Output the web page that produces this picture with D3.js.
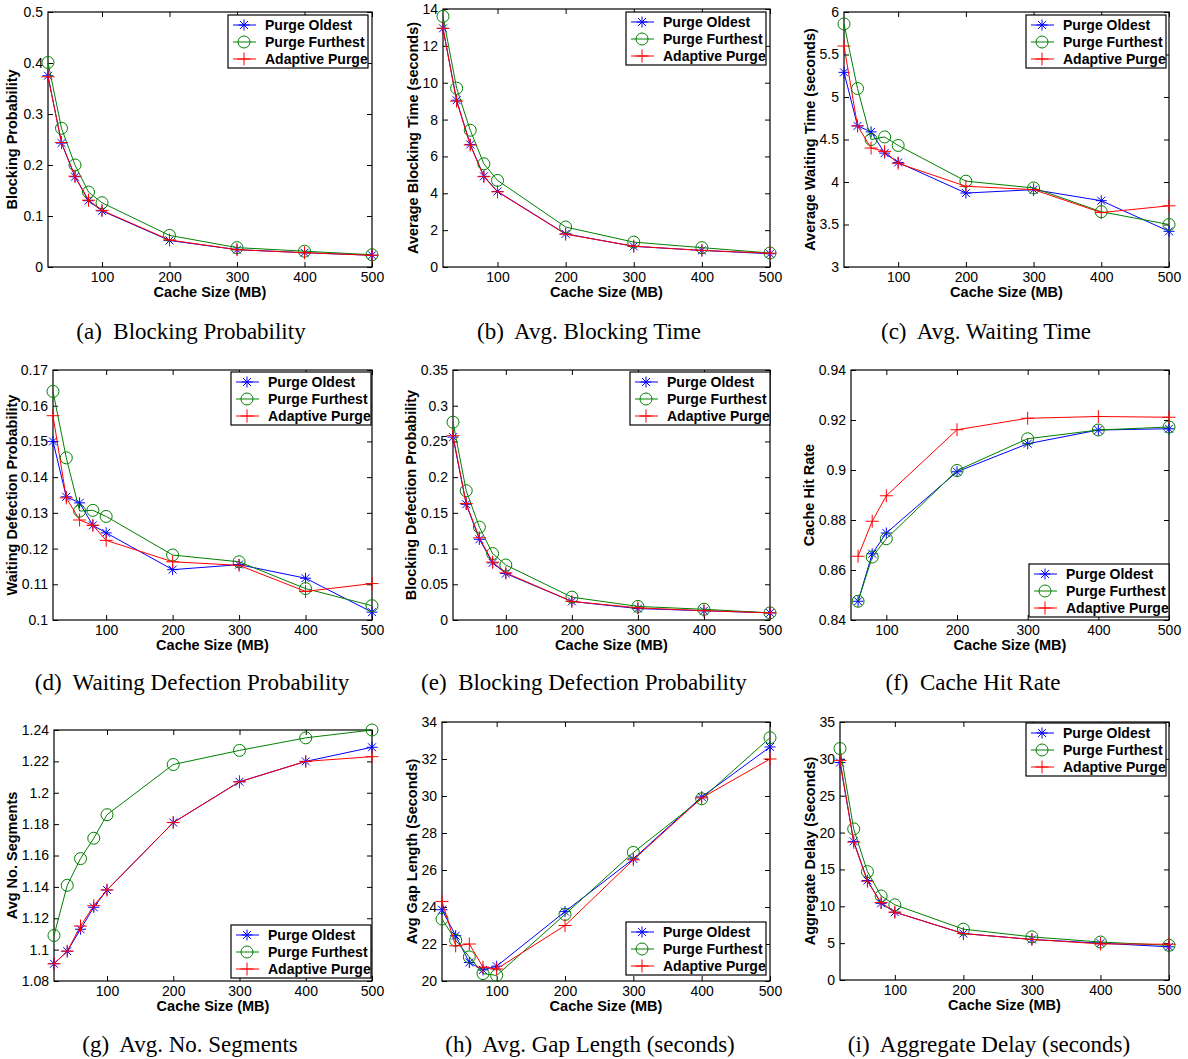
<!DOCTYPE html>
<html>
<head>
<meta charset="utf-8">
<script src="https://cdn.jsdelivr.net/npm/d3@7/dist/d3.min.js"></script>
<style>
  html, body { margin: 0; padding: 0; background: #fff; }
  svg { display: block; }
</style>
</head>
<body>
<svg id="chart" width="1188" height="1059"></svg>
<script>
// ---------------- DATA ----------------
const cacheSizes = [20, 40, 60, 80, 100, 200, 300, 400, 500];
const cacheSizesHit = [60, 80, 100, 200, 300, 400, 500];
const xTickValues = [100, 200, 300, 400, 500];
const seriesNames = ["Purge Oldest", "Purge Furthest", "Adaptive Purge"];

const blockingProbOldest   = [0.375, 0.243, 0.177, 0.130, 0.110, 0.052, 0.034, 0.028, 0.023];
const blockingProbFurthest = [0.401, 0.272, 0.200, 0.147, 0.126, 0.062, 0.038, 0.031, 0.024];
const blockingProbAdaptive = [0.373, 0.244, 0.178, 0.131, 0.111, 0.053, 0.034, 0.028, 0.023];
const blockingProbTicks = [0, 0.1, 0.2, 0.3, 0.4, 0.5];

const blockingTimeOldest   = [12.95, 9.05, 6.65, 4.92, 4.10, 1.80, 1.12, 0.90, 0.72];
const blockingTimeFurthest = [13.60, 9.70, 7.42, 5.60, 4.70, 2.17, 1.35, 1.05, 0.76];
const blockingTimeAdaptive = [12.95, 9.00, 6.62, 4.90, 4.08, 1.78, 1.13, 0.90, 0.75];
const blockingTimeTicks = [0, 2, 4, 6, 8, 10, 12, 14];

const waitingTimeOldest   = [5.29, 4.66, 4.59, 4.34, 4.23, 3.87, 3.91, 3.78, 3.42];
const waitingTimeFurthest = [5.86, 5.10, 4.50, 4.53, 4.43, 4.01, 3.93, 3.65, 3.50];
const waitingTimeAdaptive = [5.60, 4.66, 4.40, 4.36, 4.22, 3.95, 3.91, 3.64, 3.72];
const waitingTimeTicks = [3, 3.5, 4, 4.5, 5, 5.5, 6];

const waitDefectOldest   = [0.1500, 0.1345, 0.1328, 0.1265, 0.1244, 0.1141, 0.1155, 0.1117, 0.1022];
const waitDefectFurthest = [0.1640, 0.1454, 0.1305, 0.1307, 0.1290, 0.1182, 0.1163, 0.1088, 0.1040];
const waitDefectAdaptive = [0.1572, 0.1342, 0.1280, 0.1265, 0.1223, 0.1163, 0.1153, 0.1080, 0.1102];
const waitDefectTicks = [0.1, 0.11, 0.12, 0.13, 0.14, 0.15, 0.16, 0.17];

const blockDefectOldest   = [0.256, 0.162, 0.113, 0.080, 0.065, 0.026, 0.016, 0.013, 0.010];
const blockDefectFurthest = [0.277, 0.181, 0.130, 0.093, 0.077, 0.032, 0.019, 0.015, 0.010];
const blockDefectAdaptive = [0.258, 0.163, 0.115, 0.081, 0.066, 0.026, 0.017, 0.013, 0.010];
const blockDefectTicks = [0, 0.05, 0.1, 0.15, 0.2, 0.25, 0.3, 0.35];

const hitRateOldest   = [0.8475, 0.8665, 0.8748, 0.8993, 0.9105, 0.9160, 0.9165];
const hitRateFurthest = [0.8475, 0.8652, 0.8725, 0.8998, 0.9125, 0.9160, 0.9172];
const hitRateAdaptive = [0.8655, 0.8795, 0.8897, 0.9161, 0.9207, 0.9214, 0.9211];
const hitRateTicks = [0.84, 0.86, 0.88, 0.9, 0.92, 0.94];

const segmentsOldest   = [1.091, 1.099, 1.113, 1.127, 1.138, 1.181, 1.207, 1.220, 1.229];
const segmentsFurthest = [1.109, 1.141, 1.158, 1.171, 1.186, 1.218, 1.227, 1.235, 1.240];
const segmentsAdaptive = [1.091, 1.099, 1.115, 1.128, 1.138, 1.181, 1.207, 1.220, 1.223];
const segmentsTicks = [1.08, 1.1, 1.12, 1.14, 1.16, 1.18, 1.2, 1.22, 1.24];

const gapOldest   = [23.85, 22.45, 21.00, 20.60, 20.80, 23.75, 26.60, 29.95, 32.65];
const gapFurthest = [23.35, 22.20, 21.30, 20.40, 20.30, 23.60, 26.95, 29.85, 33.15];
const gapAdaptive = [24.30, 21.90, 22.00, 20.75, 20.65, 23.00, 26.55, 29.90, 32.00];
const gapTicks = [20, 22, 24, 26, 28, 30, 32, 34];

const delayOldest   = [29.5, 18.8, 13.5, 10.4, 9.2, 6.3, 5.5, 5.0, 4.5];
const delayFurthest = [31.4, 20.5, 14.7, 11.4, 10.2, 6.9, 5.85, 5.15, 4.7];
const delayAdaptive = [29.8, 18.7, 13.4, 10.5, 9.2, 6.3, 5.5, 4.9, 4.85];
const delayTicks = [0, 5, 10, 15, 20, 25, 30, 35];

// ---------------- LAYOUT ----------------
const colors = ["#0000ff", "#008000", "#ff0000"];
const markers = ["asterisk", "circle", "plus"];

const panels = [
  { x: cacheSizes, s: [blockingProbOldest, blockingProbFurthest, blockingProbAdaptive], ticks: blockingProbTicks,
    xd: [20, 500], yd: [0, 0.5], box: [48, 372, 12, 267], ylab: "Blocking Probability", ylx: 17,
    leg: [228, 15], cap: "(a)  Blocking Probability", capx: 191, capy: 339 },
  { x: cacheSizes, s: [blockingTimeOldest, blockingTimeFurthest, blockingTimeAdaptive], ticks: blockingTimeTicks,
    xd: [20, 500], yd: [0, 14], box: [443, 770, 9, 267], ylab: "Average Blocking Time (seconds)", ylx: 418,
    leg: [626, 12], cap: "(b)  Avg. Blocking Time", capx: 589, capy: 339 },
  { x: cacheSizes, s: [waitingTimeOldest, waitingTimeFurthest, waitingTimeAdaptive], ticks: waitingTimeTicks,
    xd: [20, 500], yd: [3, 6], box: [844, 1169, 12, 267], ylab: "Average Waiting Time (seconds)", ylx: 815,
    leg: [1026, 15], cap: "(c)  Avg. Waiting Time", capx: 986, capy: 339 },
  { x: cacheSizes, s: [waitDefectOldest, waitDefectFurthest, waitDefectAdaptive], ticks: waitDefectTicks,
    xd: [20, 500], yd: [0.1, 0.17], box: [53, 372, 370, 620], ylab: "Waiting Defection Probability", ylx: 17,
    leg: [231, 372], cap: "(d)  Waiting Defection Probability", capx: 192, capy: 690 },
  { x: cacheSizes, s: [blockDefectOldest, blockDefectFurthest, blockDefectAdaptive], ticks: blockDefectTicks,
    xd: [20, 500], yd: [0, 0.35], box: [453, 770, 370, 620], ylab: "Blocking Defection Probability", ylx: 416,
    leg: [630, 372], cap: "(e)  Blocking Defection Probability", capx: 584, capy: 690 },
  { x: cacheSizesHit, s: [hitRateOldest, hitRateFurthest, hitRateAdaptive], ticks: hitRateTicks,
    xd: [50, 500], yd: [0.84, 0.94], box: [851, 1169, 370, 620], ylab: "Cache Hit Rate", ylx: 814,
    leg: [1029, 564], cap: "(f)  Cache Hit Rate", capx: 973, capy: 690 },
  { x: cacheSizes, s: [segmentsOldest, segmentsFurthest, segmentsAdaptive], ticks: segmentsTicks,
    xd: [20, 500], yd: [1.08, 1.24], box: [54, 372, 730, 981], ylab: "Avg No. Segments", ylx: 17,
    leg: [231, 925], cap: "(g)  Avg. No. Segments", capx: 190, capy: 1052 },
  { x: cacheSizes, s: [gapOldest, gapFurthest, gapAdaptive], ticks: gapTicks,
    xd: [20, 500], yd: [20, 34], box: [442, 770, 722, 981], ylab: "Avg Gap Length (Seconds)", ylx: 417,
    leg: [626, 922], cap: "(h)  Avg. Gap Length (seconds)", capx: 590, capy: 1052 },
  { x: cacheSizes, s: [delayOldest, delayFurthest, delayAdaptive], ticks: delayTicks,
    xd: [20, 500], yd: [0, 35], box: [840, 1169, 722, 980], ylab: "Aggregate Delay (Seconds)", ylx: 815,
    leg: [1026, 723], cap: "(i)  Aggregate Delay (seconds)", capx: 989, capy: 1052 }
];

const svg = d3.select("#chart");
const SANS = "'Liberation Sans', Arial, Helvetica, sans-serif";
const SERIF = "'Liberation Serif', 'Times New Roman', serif";
const fmt = d => String(+(+d).toFixed(4));

function markerPath(type, s) {
  if (type === "asterisk") {
    const d = s * 0.72;
    return `M${-s},0L${s},0M0,${-s}L0,${s}M${-d},${-d}L${d},${d}M${-d},${d}L${d},${-d}`;
  }
  if (type === "plus") return `M${-s},0L${s},0M0,${-s}L0,${s}`;
  return null;
}

function drawMarker(g, type, cx, cy, color) {
  if (type === "circle") {
    g.append("circle").attr("cx", cx).attr("cy", cy).attr("r", 6)
      .attr("fill", "none").attr("stroke", color).attr("stroke-width", 1);
  } else {
    const s = type === "asterisk" ? 5.5 : 6.5;
    g.append("path").attr("transform", `translate(${cx},${cy})`)
      .attr("d", markerPath(type, s)).attr("fill", "none")
      .attr("stroke", color).attr("stroke-width", 1);
  }
}

panels.forEach(p => {
  const [L, R, T, B] = p.box;
  const x = d3.scaleLinear().domain(p.xd).range([L, R]);
  const y = d3.scaleLinear().domain(p.yd).range([B, T]);
  const g = svg.append("g");

  // axes
  const styleAxis = a => {
    a.select(".domain").remove();
    a.selectAll("line").attr("stroke", "#000").attr("stroke-width", 1);
    a.selectAll("text").attr("fill", "#000").style("font-family", SANS).style("font-size", "14px");
  };
  g.append("g").attr("transform", `translate(0,${B})`)
    .call(d3.axisBottom(x).tickValues(xTickValues).tickSize(-5).tickPadding(5).tickFormat(fmt))
    .call(styleAxis);
  g.append("g").attr("transform", `translate(0,${T})`)
    .call(d3.axisTop(x).tickValues(xTickValues).tickSize(-5).tickFormat(""))
    .call(styleAxis);
  g.append("g").attr("transform", `translate(${L},0)`)
    .call(d3.axisLeft(y).tickValues(p.ticks).tickSize(-5).tickPadding(5).tickFormat(fmt))
    .call(styleAxis);
  g.append("g").attr("transform", `translate(${R},0)`)
    .call(d3.axisRight(y).tickValues(p.ticks).tickSize(-5).tickFormat(""))
    .call(styleAxis);

  g.append("rect").attr("x", L).attr("y", T).attr("width", R - L).attr("height", B - T)
    .attr("fill", "none").attr("stroke", "#000").attr("stroke-width", 1.2);

  // series
  const line = d3.line().x(d => x(d[0])).y(d => y(d[1]));
  p.s.forEach((vals, i) => {
    const pts = p.x.map((xv, j) => [xv, vals[j]]);
    g.append("path").datum(pts).attr("d", line).attr("fill", "none")
      .attr("stroke", colors[i]).attr("stroke-width", 1);
    pts.forEach(pt => drawMarker(g, markers[i], x(pt[0]), y(pt[1]), colors[i]));
  });

  // labels
  g.append("text").attr("x", (L + R) / 2).attr("y", B + 30).attr("text-anchor", "middle")
    .style("font-family", SANS).style("font-size", "14.5px").style("font-weight", "bold")
    .text("Cache Size (MB)");
  g.append("text").attr("transform", `translate(${p.ylx},${(T + B) / 2}) rotate(-90)`)
    .attr("text-anchor", "middle")
    .style("font-family", SANS).style("font-size", "14.5px").style("font-weight", "bold")
    .text(p.ylab);

  // legend
  const [lx, ly] = p.leg;
  const lw = 140, lh = 53;
  const lg = g.append("g");
  lg.append("rect").attr("x", lx).attr("y", ly).attr("width", lw).attr("height", lh)
    .attr("fill", "#fff").attr("stroke", "#000").attr("stroke-width", 1.2);
  seriesNames.forEach((name, i) => {
    const cy = ly + 10 + i * 17;
    lg.append("line").attr("x1", lx + 5).attr("x2", lx + 28).attr("y1", cy).attr("y2", cy)
      .attr("stroke", colors[i]).attr("stroke-width", 1);
    drawMarker(lg, markers[i], lx + 16, cy, colors[i]);
    lg.append("text").attr("x", lx + 37).attr("y", cy + 5)
      .style("font-family", SANS).style("font-size", "14px").style("font-weight", "bold")
      .text(name);
  });

  // caption
  g.append("text").attr("x", p.capx).attr("y", p.capy).attr("text-anchor", "middle")
    .style("font-family", SERIF).style("font-size", "23px").style("white-space", "pre")
    .text(p.cap);
});
</script>
</body>
</html>
